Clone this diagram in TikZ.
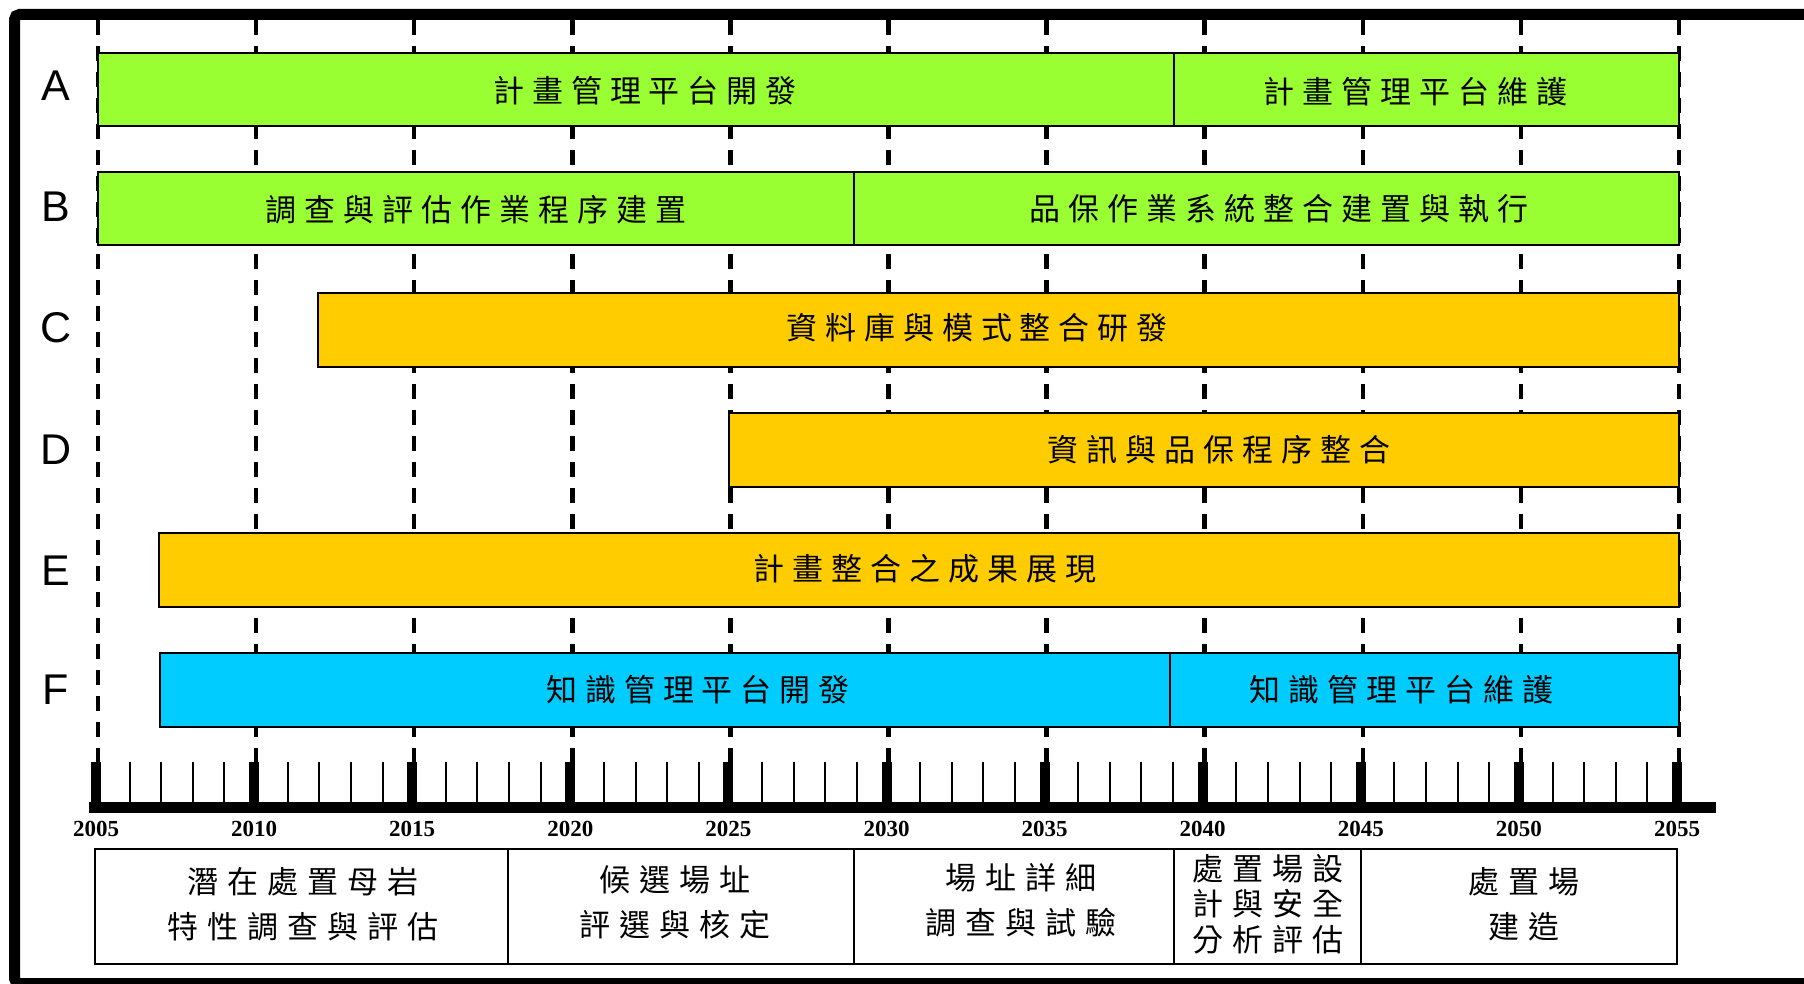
\documentclass[tikz,border=0pt]{standalone}
\usepackage{fontspec}
\newfontfamily\cjk{Noto Sans CJK TC}
\newfontfamily\arialf{Liberation Sans}
\newfontfamily\timesf{Liberation Serif}
\ExplSyntaxOn
\NewDocumentCommand\spaced{mm}{
  \tl_set:Nn \l_tmpa_tl {#2}
  \tl_set:Nx \l_tmpb_tl {\tl_tail:N \l_tmpa_tl}
  \tl_head:N \l_tmpa_tl
  \tl_map_inline:Nn \l_tmpb_tl {\kern #1 ##1}
}
\ExplSyntaxOff
\definecolor{grn}{RGB}{153,255,51}
\definecolor{ylw}{RGB}{255,204,0}
\definecolor{cyn}{RGB}{0,204,255}
\tikzset{
  bar/.style={draw=black, line width=2pt, anchor=north west, inner sep=0pt, outer sep=0pt},
  bartext/.style={font=\cjk\fontsize{31}{31}\selectfont, inner sep=0pt},
  rowlabel/.style={font=\arialf\fontsize{43}{43}\selectfont, inner sep=0pt},
  yearlabel/.style={font=\timesf\bfseries\fontsize{23}{23}\selectfont, inner sep=0pt},
  phasebox/.style={draw=black, line width=2pt, anchor=north west, inner sep=0pt, outer sep=0pt, minimum height=115pt},
  phasetext/.style={font=\cjk\fontsize{31}{45}\selectfont, align=center, inner sep=0pt},
  guide/.style={line width=4.5pt, dash pattern=on 15pt off 11pt},
}
\begin{document}
\begin{tikzpicture}[x=1pt,y=-1pt]
\path[use as bounding box] (0,0) rectangle (1804,984);
\clip (0,0) rectangle (1804,984);
\fill[white] (0,0) rectangle (1804,984);
% frame
\draw[line width=11pt, rounded corners=5pt] (14.5,14.5) rectangle (1840,983.5);
% guide lines
\foreach \k in {0,...,10}{
  \draw[guide] ({98+158.1*\k},20) -- ({98+158.1*\k},762);
}
% row labels
\node[rowlabel] (la) at (56,86) {A};
\node[rowlabel] (lb) at (56,207) {B};
\node[rowlabel] (lc) at (56,328) {C};
\node[rowlabel] (ld) at (56,450) {D};
\node[rowlabel] (le) at (56,571) {E};
\node[rowlabel] (lf) at (56,690) {F};
% bars
\node[bar, fill=grn, minimum width=1076pt, minimum height=73pt] (a1) at (98,53) {};
\node[bar, fill=grn, minimum width=505pt, minimum height=73pt] (a2) at (1174,53) {};
\node[bar, fill=grn, minimum width=756pt, minimum height=73pt] (b1) at (98,172) {};
\node[bar, fill=grn, minimum width=825pt, minimum height=73pt] (b2) at (854,172) {};
\node[bar, fill=ylw, minimum width=1361pt, minimum height=74pt] (c1) at (318,293) {};
\node[bar, fill=ylw, minimum width=950pt, minimum height=74pt] (d1) at (729,413) {};
\node[bar, fill=ylw, minimum width=1520pt, minimum height=74pt] (e1) at (159,533) {};
\node[bar, fill=cyn, minimum width=1010pt, minimum height=74pt] (f1) at (160,653) {};
\node[bar, fill=cyn, minimum width=509pt, minimum height=74pt] (f2) at (1170,653) {};
% bar texts
\node[bartext] (ta1) at (645,91) {\spaced{8pt}{計畫管理平台開發}};
\node[bartext] (ta2) at (1415,92) {\spaced{8pt}{計畫管理平台維護}};
\node[bartext] (tb1) at (476,210) {\spaced{8pt}{調查與評估作業程序建置}};
\node[bartext] (tb2) at (1279,209) {\spaced{8pt}{品保作業系統整合建置與執行}};
\node[bartext] (tc1) at (977,328) {\spaced{8pt}{資料庫與模式整合研發}};
\node[bartext] (td1) at (1219,450) {\spaced{8pt}{資訊與品保程序整合}};
\node[bartext] (te1) at (925,569) {\spaced{8pt}{計畫整合之成果展現}};
\node[bartext] (tf1) at (698,690) {\spaced{8pt}{知識管理平台開發}};
\node[bartext] (tf2) at (1401,690) {\spaced{8pt}{知識管理平台維護}};
% axis ticks
\foreach \k in {0,...,9}{
  \foreach \j in {1,...,4}{
    \draw[line width=2pt] ({98+31.62*(5*\k+\j)},762) -- ({98+31.62*(5*\k+\j)},802);
  }
}
\foreach \k in {0,...,10}{
  \fill ({98+158.1*\k-7},762) rectangle ({98+158.1*\k+3},802);
  \draw[line width=4pt] ({98+158.1*\k},749) -- ({98+158.1*\k},763);
  \node[yearlabel] (y\k) at ({96+158.1*\k},829) {\the\numexpr2005+5*\k\relax};
}
\fill (89,802) rectangle (1716,813);
% phase boxes
\node[phasebox, minimum width=413pt] (p1) at (95,849) {};
\node[phasebox, minimum width=346pt] (p2) at (508,849) {};
\node[phasebox, minimum width=320pt] (p3) at (854,849) {};
\node[phasebox, minimum width=187pt] (p4) at (1174,849) {};
\node[phasebox, minimum width=316pt] (p5) at (1361,849) {};
\node[phasetext] (q1) at (303,904) {\spaced{9pt}{潛在處置母岩}\\\spaced{9pt}{特性調查與評估}};
\node[phasetext] (q2) at (675,902) {\spaced{9pt}{候選場址}\\\spaced{9pt}{評選與核定}};
\node[phasetext] (q3) at (1021,900) {\spaced{9pt}{場址詳細}\\\spaced{9pt}{調查與試驗}};
\node[phasetext, font=\cjk\fontsize{31}{35.5}\selectfont] (q4) at (1268,904) {\spaced{9pt}{處置場設}\\\spaced{9pt}{計與安全}\\\spaced{9pt}{分析評估}};
\node[phasetext] (q5) at (1524,904) {\spaced{9pt}{處置場}\\\spaced{9pt}{建造}};
\end{tikzpicture}
\end{document}
